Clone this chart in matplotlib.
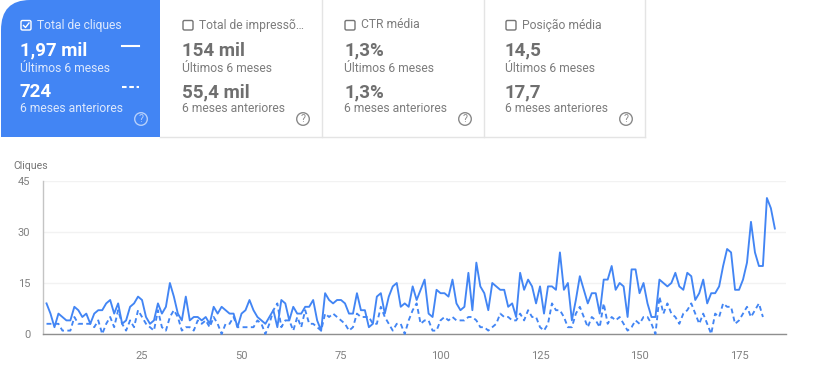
import matplotlib
matplotlib.use("Agg")
import matplotlib.pyplot as plt
from matplotlib.patches import Circle, FancyBboxPatch, PathPatch, Rectangle
from matplotlib.path import Path

plt.rcParams['font.family'] = ['Roboto', 'DejaVu Sans']

W, H = 816, 380
BLUE = '#4285f4'
GREY = '#757575'

# Daily clicks, last 6 months
clicks_current = [
    9, 6, 2, 6, 5, 4, 4, 8, 7, 5,
    6, 3, 6, 7, 7, 9, 10, 6, 9, 3,
    4, 8, 9, 11, 10, 5, 3, 4, 9, 6,
    8, 15, 11, 6, 4, 11, 4, 5, 5, 4,
    5, 3, 8, 6, 8, 7, 6, 6, 2, 6,
    7, 10, 7, 5, 4, 3, 5, 7, 2, 10,
    9, 4, 8, 6, 6, 8, 8, 10, 4, 1,
    12, 10, 9, 10, 10, 9, 6, 6, 12, 7,
    7, 2, 3, 11, 12, 6, 11, 14, 15, 8,
    9, 8, 14, 10, 13, 16, 6, 5, 13, 12,
    12, 11, 16, 9, 7, 8, 18, 7, 21, 14,
    12, 7, 15, 14, 13, 13, 8, 9, 5, 18,
    13, 16, 14, 9, 14, 6, 14, 14, 13, 24,
    13, 15, 4, 10, 17, 13, 9, 12, 12, 6,
    16, 16, 20, 13, 15, 14, 5, 19, 19, 12,
    15, 9, 5, 5, 16, 15, 14, 15, 18, 14,
    13, 18, 17, 10, 12, 16, 9, 12, 12, 14,
    20, 25, 24, 13, 13, 16, 21, 33, 24, 20,
    20, 40, 37, 31,
]

# Daily clicks, previous 6 months
clicks_previous = [
    3, 3, 3, 3, 1, 1, 1, 5, 3, 3,
    3, 3, 2, 4, 0, 3, 5, 2, 7, 3,
    1, 4, 2, 7, 5, 3, 2, 1, 7, 2,
    1, 5, 7, 5, 1, 2, 2, 1, 4, 3,
    4, 2, 5, 3, 0, 3, 3, 5, 2, 2,
    2, 2, 2, 4, 3, 0, 3, 7, 9, 2,
    4, 4, 1, 5, 2, 7, 3, 3, 2, 1,
    6, 5, 6, 5, 4, 3, 1, 2, 6, 5,
    5, 5, 3, 3, 8, 5, 3, 1, 3, 3,
    0, 4, 7, 9, 3, 4, 4, 1, 1, 4,
    5, 4, 5, 4, 4, 4, 5, 5, 4, 2,
    2, 1, 2, 3, 6, 5, 5, 4, 4, 6,
    4, 7, 5, 5, 2, 1, 3, 9, 7, 7,
    5, 2, 2, 6, 8, 5, 2, 5, 4, 2,
    9, 3, 5, 4, 5, 3, 1, 2, 4, 3,
    5, 5, 3, 0, 11, 6, 9, 6, 5, 3,
    6, 7, 9, 6, 3, 6, 3, 0, 6, 5,
    9, 8, 8, 3, 4, 6, 8, 5, 7, 9,
    5,
]

x_ticks = [25, 50, 75, 100, 125, 150, 175]
y_ticks = [0, 15, 30, 45]

card_titles = ['Total de cliques', 'Total de impressõ…', 'CTR média', 'Posição média']
card_current = ['1,97 mil', '154 mil', '1,3%', '14,5']
card_previous = ['724', '55,4 mil', '1,3%', '17,7']
current_label = 'Últimos 6 meses'
previous_label = '6 meses anteriores'

fig = plt.figure(figsize=(W / 100, H / 100), dpi=100, facecolor='white')

# Overlay in pixel coordinates for the metric cards
bg = fig.add_axes([0, 0, 1, 1])
bg.set_xlim(0, W)
bg.set_ylim(H, 0)
bg.axis('off')

# Blue card with rounded top-left corner
r = 30
verts = [(1, 137), (1, r), (1, 0), (r, 0), (160, 0), (160, 137), (1, 137)]
codes = [Path.MOVETO, Path.LINETO, Path.CURVE3, Path.CURVE3, Path.LINETO, Path.LINETO, Path.CLOSEPOLY]
bg.add_patch(PathPatch(Path(verts, codes), fc=BLUE, ec='none'))

# Card separators and bottom line
for sx in [322, 483.5, 645]:
    bg.plot([sx, sx], [0, 137], color='#e4e4e4', lw=1)
bg.plot([160, 645], [137, 137], color='#e4e4e4', lw=1)

card_left = [20, 182, 344, 505]
for i, left in enumerate(card_left):
    main = 'white' if i == 0 else '#6f6f6f'
    sub = '#dce8fd' if i == 0 else '#7c7c7c'
    # checkbox
    bg.add_patch(FancyBboxPatch((left + 1, 20.5), 10, 9.5,
                                boxstyle='round,pad=0,rounding_size=1.5',
                                fc='none', ec=main if i == 0 else '#757575', lw=1))
    if i == 0:
        bg.plot([left + 3.5, left + 5.5, left + 9], [25.5, 27.5, 23], color='white', lw=1)
    bg.text(left + 17, 25, card_titles[i], fontsize=8.7, color=sub, va='center', ha='left')
    bg.text(left, 50.5, card_current[i], fontsize=13.5, fontweight='bold', color=main, va='center', ha='left')
    bg.text(left, 68, current_label, fontsize=8.7, color=sub, va='center', ha='left')
    bg.text(left, 92, card_previous[i], fontsize=13.5, fontweight='bold', color=main, va='center', ha='left')
    bg.text(left, 109, previous_label, fontsize=8.7, color=sub, va='center', ha='left')
    # help icon
    hx = left + 121
    bg.add_patch(Circle((hx, 119), 6.3, fc='none', ec=sub if i == 0 else '#8a8a8a', lw=1, alpha=0.75 if i == 0 else 1))
    bg.text(hx, 119.3, '?', fontsize=7.5, color=sub if i == 0 else '#8a8a8a', va='center', ha='center',
            alpha=0.75 if i == 0 else 1)

# Legend keys in the blue card
bg.plot([122, 139], [46, 46], color='white', lw=1.5)
bg.plot([122, 139], [87, 87], color='white', lw=1.5, dashes=(2.2, 1.3))

bg.text(13, 166, 'Cliques', fontsize=7.6, color=GREY, va='center', ha='left')

# Chart
left, right, top, bottom = 43, 786, 181, 334
ax = fig.add_axes([left / W, 1 - bottom / H, (right - left) / W, (bottom - top) / H])
ax.patch.set_alpha(0)

days_current = list(range(1, len(clicks_current) + 1))
days_previous = list(range(1, len(clicks_previous) + 1))
ax.plot(days_current, clicks_current, color=BLUE, lw=1.35, solid_joinstyle='round', clip_on=False, zorder=3)
ax.plot(days_previous, clicks_previous, color=BLUE, lw=1.35, dashes=(2.6, 1.8), clip_on=False, zorder=3)

ax.set_xlim(0.12, 186.8)
ax.set_ylim(0, 45)
ax.set_xticks(x_ticks)
ax.set_yticks(y_ticks)
ax.tick_params(axis='both', length=0, labelsize=8, labelcolor='#808080')
ax.tick_params(axis='x', pad=12)
ax.tick_params(axis='y', pad=9)
ax.grid(axis='y', color='#f2f2f2', lw=1)
ax.set_axisbelow(True)
for name in ['top', 'right']:
    ax.spines[name].set_visible(False)
ax.spines['left'].set_color('#c4c4c4')
ax.spines['bottom'].set_color('#8f8f8f')
ax.spines['left'].set_linewidth(1)
ax.spines['bottom'].set_linewidth(1)

plt.savefig('out.png', dpi=100)
